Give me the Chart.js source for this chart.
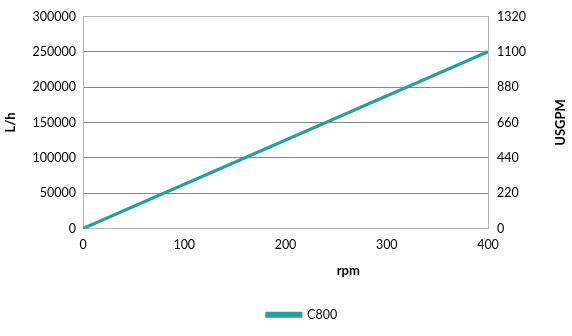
<!DOCTYPE html>
<html>
<head>
<meta charset="utf-8">
<script src="https://cdn.jsdelivr.net/npm/chart.js@4/dist/chart.umd.min.js"></script>
<style>
html,body{margin:0;padding:0;background:#fff;}
#wrap{width:572px;height:336px;position:relative;}
</style>
</head>
<body>
<div id="wrap"><canvas id="c" width="572" height="336"></canvas></div>
<script>
// Data
const rpm = [0, 400];
const flowLh = [0, 250000];
const seriesName = 'C800';
const leftTicks = [0, 50000, 100000, 150000, 200000, 250000, 300000];
const rightTicks = [0, 220, 440, 660, 880, 1100, 1320];
const xTicks = [0, 100, 200, 300, 400];
const xTitle = 'rpm';
const leftTitle = 'L/h';
const rightTitle = 'USGPM';

const FONT = 'Lato, "Open Sans", sans-serif';
const TEAL = '#26a098';

const points = rpm.map((r, i) => ({x: r, y: flowLh[i]}));

const titlesPlugin = {
  id: 'axisTitles',
  afterDraw(chart) {
    const ctx = chart.ctx;
    const a = chart.chartArea;
    const midY = (a.top + a.bottom) / 2;
    ctx.save();
    ctx.fillStyle = '#000';
    ctx.font = 'bold 13px ' + FONT;
    ctx.textAlign = 'center';
    ctx.textBaseline = 'middle';
    // x title
    ctx.fillText(xTitle, chart.scales.x.getPixelForValue(262), 271);
    // left title
    ctx.save();
    ctx.translate(11, midY);
    ctx.rotate(-Math.PI / 2);
    ctx.fillText(leftTitle, 0, 0);
    ctx.restore();
    // right title
    ctx.save();
    ctx.translate(561, midY);
    ctx.rotate(-Math.PI / 2);
    ctx.fillText(rightTitle, 0, 0);
    ctx.restore();
    ctx.restore();
  }
};

new Chart(document.getElementById('c'), {
  type: 'line',
  data: {
    datasets: [{
      label: seriesName,
      data: points,
      borderColor: TEAL,
      backgroundColor: TEAL,
      borderWidth: 3.2,
      pointRadius: 0,
      fill: false,
      tension: 0,
      yAxisID: 'y'
    }]
  },
  options: {
    responsive: false,
    animation: false,
    devicePixelRatio: 1,
    layout: {padding: {left: 32, right: 0, top: 13, bottom: 5}},
    plugins: {
      tooltip: {enabled: false},
      legend: {
        position: 'bottom',
        labels: {
          font: {family: FONT, size: 12.5},
          color: '#000',
          boxWidth: 34,
          boxHeight: 3,
          padding: 10
        }
      }
    },
    scales: {
      x: {
        type: 'linear',
        min: 0, max: 400,
        afterBuildTicks: s => { s.ticks = xTicks.map(v => ({value: v})); },
        afterFit: s => { s.height = 70; },
        grid: {display: false, drawTicks: false},
        border: {display: true, color: '#b3b3b3', width: 1},
        ticks: {font: {family: FONT, size: 12.5}, color: '#000', padding: 9, maxRotation: 0}
      },
      y: {
        position: 'left',
        min: 0, max: 300000,
        afterBuildTicks: s => { s.ticks = leftTicks.map(v => ({value: v})); },
        afterFit: s => { s.width = 51; },
        grid: {
          drawTicks: false,
          color: c => (c.tick && (c.tick.value === 0 || c.tick.value === 300000)) ? '#b3b3b3' : '#858585',
          lineWidth: 1
        },
        border: {display: true, color: '#b3b3b3', width: 1},
        ticks: {font: {family: FONT, size: 12.5}, color: '#000', padding: 7,
          callback: v => String(v)}
      },
      y2: {
        position: 'right',
        min: 0, max: 1320,
        afterBuildTicks: s => { s.ticks = rightTicks.map(v => ({value: v})); },
        afterFit: s => { s.width = 84; },
        grid: {display: false, drawTicks: false},
        border: {display: true, color: '#b3b3b3', width: 1},
        ticks: {font: {family: FONT, size: 12.5}, color: '#000', padding: 9,
          callback: v => String(v)}
      }
    }
  },
  plugins: [titlesPlugin]
});
</script>
</body>
</html>
